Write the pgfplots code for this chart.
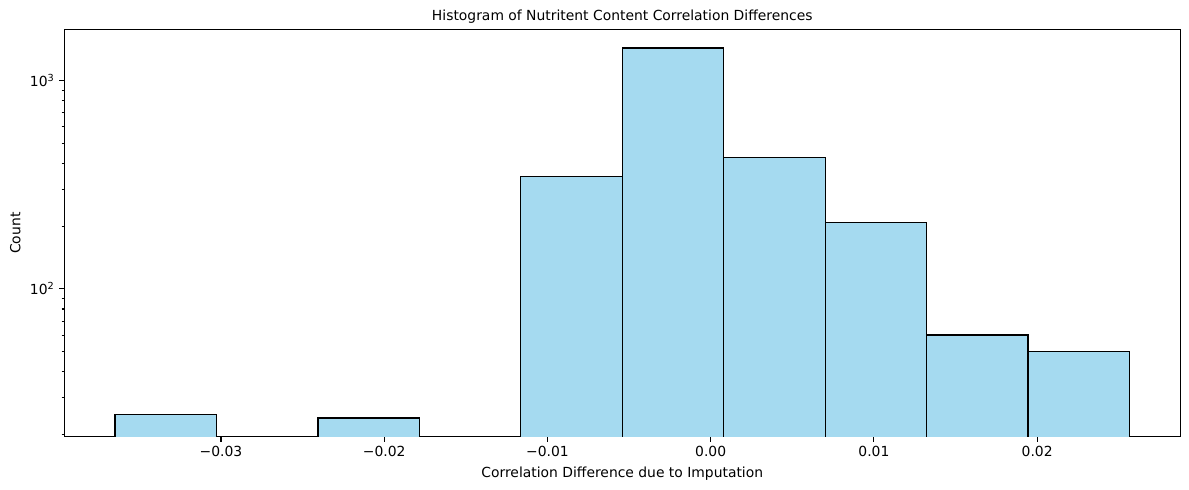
\documentclass[border=0pt]{standalone}
\usepackage{pgfplots}
\pgfplotsset{compat=1.18}
\usepackage{fontspec}
\setmainfont{DejaVu Sans}
\definecolor{barblue}{RGB}{165,218,240}
\begin{document}
\begin{tikzpicture}
\begin{axis}[
  at={(0,0)}, anchor=south west,
  scale only axis,
  width=803.5pt, height=293.5pt,
  ymode=log,
  xmin=-0.0395975, xmax=0.0287675,
  ymin=19.45, ymax=1765,
  scaled x ticks=false,
  axis line style={line width=0.8pt},
  tick align=outside,
  tick style={black, line width=0.8pt},
  major tick length=3.5pt,
  minor tick length=2pt,
  xtick={-0.03,-0.02,-0.01,0,0.01,0.02},
  xticklabels={−0.03,−0.02,−0.01,0.00,0.01,0.02},
  ytick={100,1000},
  yticklabels={10\textsuperscript{2},10\textsuperscript{3}},
  minor ytick={20,30,40,50,60,70,80,90,200,300,400,500,600,700,800,900},
  xtick pos=bottom, ytick pos=left,
  ticklabel style={font=\fontsize{10}{12}\selectfont},
  label style={font=\fontsize{10}{12}\selectfont},
  title style={font=\fontsize{10}{12}\selectfont, yshift=-5pt},
  title={Histogram of Nutritent Content Correlation Differences},
  xlabel={Correlation Difference due to Imputation},
  ylabel={Count},
  bar width=0.006215,
  clip=true,
]
\addplot[ybar, bar shift=0pt, fill=barblue, draw=black, line width=0.9pt] coordinates {
  (-0.0333825,25)
  (-0.0209525,24)
  (-0.0085225,347)
  (-0.0023075,1436)
  (0.0039075,428)
  (0.0101225,208)
  (0.0163375,60)
  (0.0225525,50)
};
\end{axis}
\pgfresetboundingbox
\path (-46.3pt,-38.2pt) rectangle (809.8pt,314.6pt);
\end{tikzpicture}
\end{document}
